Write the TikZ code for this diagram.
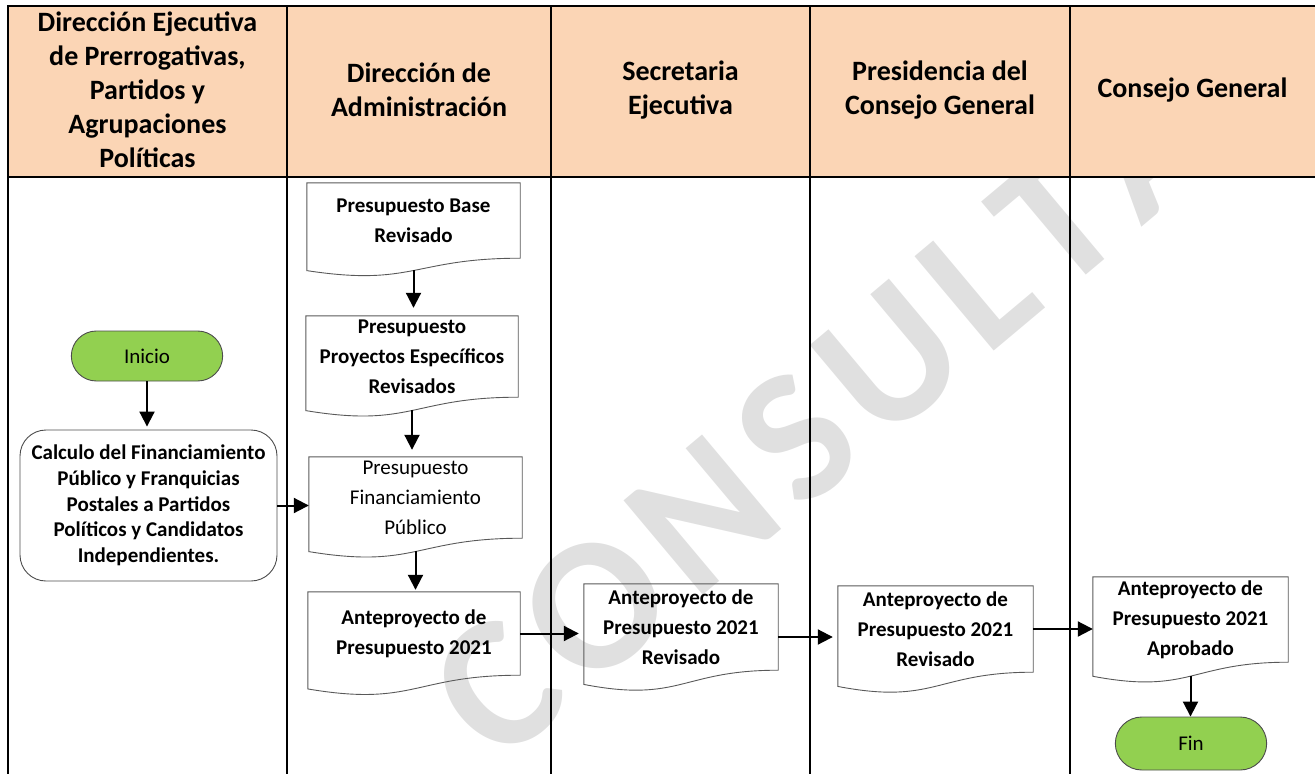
\documentclass[tikz,border=0pt]{standalone}
\usepackage{fontspec}
\setmainfont{Carlito}
\usetikzlibrary{arrows.meta,calc,shapes.misc}
\definecolor{hdrfill}{HTML}{FBD5B5}
\definecolor{termgreen}{HTML}{92D050}
\tikzset{
  lane/.style={line width=2pt, black},
  hdr/.style={font=\bfseries\fontsize{28}{34}\selectfont, align=center, inner sep=0pt},
  docnode/.style={rectangle, inner sep=0pt, align=center, font=\bfseries\fontsize{21}{30}\selectfont},
  docline/.style={draw=black!65, line width=0.9pt},
  term/.style={rounded rectangle, draw=black!70, line width=0.9pt, fill=termgreen, minimum width=158pt, minimum height=50pt, font=\fontsize{21}{25}\selectfont},
  procbox/.style={rectangle, rounded corners=26pt, draw=black!70, line width=0.9pt, align=center, inner sep=0pt, font=\bfseries\fontsize{21}{25.7}\selectfont},
  arr/.style={-{Triangle[length=15pt,width=15pt]}, line width=2pt, black},
  watermark/.style={font=\bfseries\fontsize{190}{190}\selectfont, text=black!12, rotate=40, inner sep=0pt, anchor=base west}
}
\newcommand\docshape[1]{%
  \draw[docline] let \p1=(#1.north west), \p2=(#1.south east), \n1={\y1-\y2} in
  (\p1) -- (\x2,\y1) -- (\p2) .. controls ({0.5*\x1+0.5*\x2},\y2) and ({0.5*\x1+0.5*\x2},{\y2-0.381*\n1}) .. (\x1,{\y2-0.1646*\n1}) -- cycle;}
\newcommand\wmgap{\kern14pt}
\begin{document}
\begin{tikzpicture}[x=1pt,y=-1pt]
\useasboundingbox (0,0) rectangle (1315,774);
% watermark
\node[watermark] (wm) at (498,768) {C\wmgap O\wmgap N\wmgap S\wmgap U\wmgap L\wmgap T\wmgap A};
% header band
\fill[hdrfill] (8,6) rectangle (1315,177);
% lane lines
\draw[lane] (1315,6) -- (7,6);
\draw[lane] (8,6) -- (8,774);
\draw[lane] (8,177) -- (1315,177);
\foreach \xx in {287,551,810,1070} \draw[lane] (\xx,6) -- (\xx,774);
% header texts
\node[hdr] (h1) at (147.5,90) {Dirección Ejecutiva\\de Prerrogativas,\\Partidos y\\Agrupaciones\\Políticas};
\node[hdr] (h2) at (419,90) {Dirección de\\Administración};
\node[hdr] (h3) at (680.5,90) {Secretaria\\Ejecutiva};
\node[hdr] (h4) at (940,90) {Presidencia del\\Consejo General};
\node[hdr] (h5) at (1192.5,90) {Consejo General};
% nodes
\node[term] (inicio) at (147,356) {Inicio};
\node[procbox, minimum width=257pt, minimum height=151pt] (calc) at (148.5,505.5) {Calculo del Financiamiento\\Público y Franquicias\\Postales a Partidos\\Políticos y Candidatos\\Independientes.};
\node[docnode, minimum width=213pt, minimum height=75pt] (pbr) at (413.5,220.5) {Presupuesto Base\\Revisado};
\node[docnode, minimum width=212pt, minimum height=81pt] (pper) at (412,356.5) {Presupuesto\\Proyectos Específicos\\Revisados};
\node[docnode, font=\fontsize{21}{30}\selectfont, minimum width=213pt, minimum height=81pt] (pfp) at (415.5,497.5) {Presupuesto\\Financiamiento\\Público};
\node[docnode, minimum width=212pt, minimum height=83pt] (apd) at (414,633.5) {Anteproyecto de\\Presupuesto 2021};
\node[docnode, minimum width=194pt, minimum height=86pt] (sec) at (681,627) {Anteproyecto de\\Presupuesto 2021\\Revisado};
\node[docnode, minimum width=195pt, minimum height=86pt] (pres) at (935.5,629) {Anteproyecto de\\Presupuesto 2021\\Revisado};
\node[docnode, minimum width=195pt, minimum height=85pt] (cons) at (1190.5,619.5) {Anteproyecto de\\Presupuesto 2021\\Aprobado};
\node[term, minimum height=53pt] (fin) at (1191,743.5) {Fin};
\docshape{pbr}
\docshape{pper}
\docshape{pfp}
\docshape{apd}
\docshape{sec}
\docshape{pres}
\docshape{cons}
% connectors
\draw[arr, shorten >=3pt] (inicio.south) -- (inicio.south |- calc.north);
\draw[arr] (calc.east) -- (calc.east -| pfp.west);
\draw[arr, shorten <=12pt, shorten >=8pt] (pbr.south) -- (pbr.south |- pper.north);
\draw[arr, shorten <=13pt, shorten >=7pt] (pper.south) -- (pper.south |- pfp.north);
\draw[arr, shorten <=13pt, shorten >=2pt] (pfp.south) -- (pfp.south |- apd.north);
\draw[arr, shorten >=5pt] (apd.east) -- (apd.east -| sec.west);
\draw[arr, shorten >=5pt] ([yshift=-10pt]sec.east) -- ([yshift=-10pt]sec.east -| pres.west);
\draw[arr] (pres.east) -- (pres.east -| cons.west);
\draw[arr, shorten <=14pt] (cons.south) -- (cons.south |- fin.north);
\end{tikzpicture}
\end{document}
